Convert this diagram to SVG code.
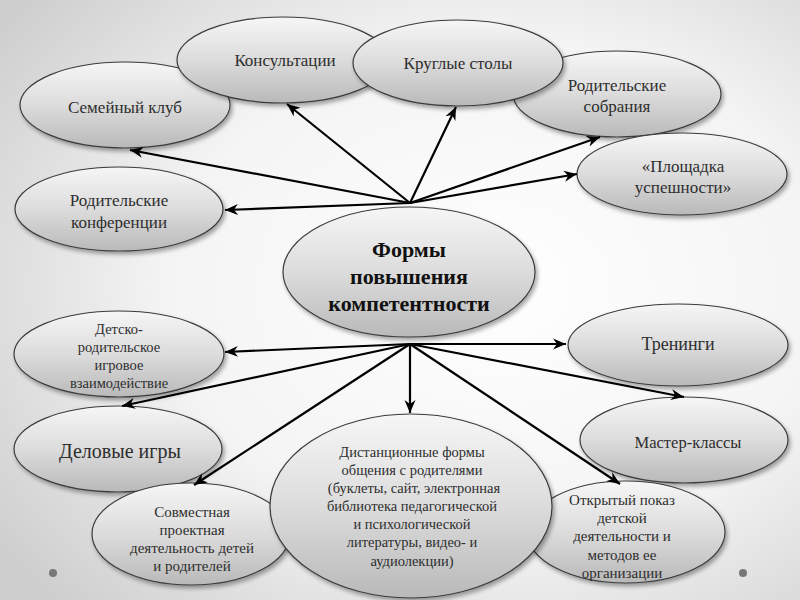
<svg xmlns="http://www.w3.org/2000/svg" width="800" height="600" viewBox="0 0 800 600">
<defs>
<radialGradient id="bg" cx="62%" cy="48%" r="75%">
<stop offset="0" stop-color="#ffffff"/>
<stop offset="0.55" stop-color="#f4f4f4"/>
<stop offset="1" stop-color="#cfcfcf"/>
</radialGradient>
<linearGradient id="fill" x1="0" y1="0" x2="0" y2="1">
<stop offset="0" stop-color="#f6f6f6"/>
<stop offset="0.5" stop-color="#dcdcdc"/>
<stop offset="1" stop-color="#b9b9b9"/>
</linearGradient>
<filter id="sh" x="-10%" y="-10%" width="125%" height="130%">
<feDropShadow dx="2" dy="3" stdDeviation="2.2" flood-color="#000" flood-opacity="0.35"/>
</filter>
<marker id="arr" markerUnits="userSpaceOnUse" markerWidth="14" markerHeight="12" viewBox="0 0 14 12" refX="13" refY="6" orient="auto">
<path d="M0,0.5 L13,6 L0,11.5 L4,6 z" fill="#000"/>
</marker>
<style>
.n ellipse{fill:url(#fill);stroke:#3c3c3c;stroke-width:1.2;filter:url(#sh)}
.n text{fill:#2e2e2e;text-anchor:middle}
.t17{font-size:17px}
.t15{font-size:15px}
.t14{font-size:14.5px}
.c text{font-size:22px;font-weight:bold;fill:#111}
#connectors line{stroke:#000;stroke-width:2.2;marker-end:url(#arr)}
</style>
</defs>
<rect width="800" height="600" fill="url(#bg)"/>
<circle cx="53" cy="573" r="4" fill="#777"/>
<circle cx="743" cy="573" r="4" fill="#777"/>

<g font-family="Liberation Serif, DejaVu Serif, serif">
<g id="node-semeyny" class="n"><ellipse cx="125" cy="105" rx="105" ry="43"/><text class="t17" x="125" y="113">Семейный клуб</text></g>
<g id="node-konsult" class="n"><ellipse cx="283" cy="60" rx="106" ry="43"/><text class="t17" x="285" y="66">Консультации</text></g>
<g id="node-sobrania" class="n"><ellipse cx="617" cy="94" rx="104" ry="43"/><text class="t17" x="617" y="91">Родительские</text><text class="t17" x="617" y="112">собрания</text></g>
<g id="node-kruglye" class="n"><ellipse cx="458" cy="63" rx="105" ry="43"/><text class="t17" x="458" y="69">Круглые столы</text></g>
<g id="node-ploshadka" class="n"><ellipse cx="682" cy="174" rx="105" ry="41"/><text class="t17" x="683" y="172">«Площадка</text><text class="t17" x="683" y="193">успешности»</text></g>
<g id="node-konferencii" class="n"><ellipse cx="119" cy="209" rx="104" ry="42"/><text class="t17" x="119" y="206">Родительские</text><text class="t17" x="119" y="228">конференции</text></g>
<g id="node-center" class="n c"><ellipse cx="409" cy="272" rx="126" ry="65"/><text x="409" y="257">Формы</text><text x="409" y="284">повышения</text><text x="409" y="311">компетентности</text></g>
<g id="node-detsko" class="n"><ellipse cx="119" cy="354" rx="105" ry="43"/><text class="t14" x="119" y="334">Детско-</text><text class="t14" x="119" y="352">родительское</text><text class="t14" x="119" y="370">игровое</text><text class="t14" x="119" y="388">взаимодействие</text></g>
<g id="node-treningi" class="n"><ellipse cx="678" cy="345" rx="110" ry="41"/><text x="678" y="350" style="font-size:18px">Тренинги</text></g>
<g id="node-delovye" class="n"><ellipse cx="118" cy="449" rx="104" ry="43"/><text x="120" y="458" style="font-size:20px">Деловые игры</text></g>
<g id="node-master" class="n"><ellipse cx="684" cy="440" rx="104" ry="43"/><text x="688" y="448" style="font-size:16.5px">Мастер-классы</text></g>
<g id="node-sovmest" class="n"><ellipse cx="191" cy="534" rx="99" ry="51"/><text class="t15" x="192" y="517">Совместная</text><text class="t15" x="192" y="535">проектная</text><text class="t15" x="192" y="553">деятельность детей</text><text class="t15" x="192" y="571">и родителей</text></g>
<g id="node-otkryty" class="n"><ellipse cx="626" cy="532" rx="99" ry="51"/><text class="t15" x="622" y="505">Открытый показ</text><text class="t15" x="622" y="523">детской</text><text class="t15" x="622" y="541">деятельности и</text><text class="t15" x="622" y="560">методов ее</text><text class="t15" x="622" y="578">организации</text></g>
<g id="node-distanc" class="n"><ellipse cx="411" cy="506" rx="141" ry="92"/><text class="t14" x="412" y="457">Дистанционные формы</text><text class="t14" x="412" y="475">общения с родителями</text><text class="t14" x="414" y="493">(буклеты, сайт, электронная</text><text class="t14" x="412" y="511">библиотека педагогической</text><text class="t14" x="412" y="529">и психологической</text><text class="t14" x="412" y="547">литературы, видео- и</text><text class="t14" x="412" y="566">аудиолекции)</text></g>
</g>

<g id="connectors">
<line x1="410" y1="203" x2="287" y2="104"/>
<line x1="410" y1="203" x2="130" y2="150"/>
<line x1="410" y1="203" x2="225" y2="210"/>
<line x1="410" y1="203" x2="456" y2="107"/>
<line x1="410" y1="203" x2="600" y2="137"/>
<line x1="410" y1="203" x2="577" y2="174"/>
<line x1="410" y1="344" x2="225" y2="352"/>
<line x1="410" y1="344" x2="122" y2="406"/>
<line x1="410" y1="344" x2="194" y2="485"/>
<line x1="410" y1="344" x2="410" y2="413"/>
<line x1="410" y1="344" x2="566" y2="344"/>
<line x1="410" y1="344" x2="684" y2="397"/>
<line x1="410" y1="344" x2="620" y2="484"/>
</g>
</svg>
